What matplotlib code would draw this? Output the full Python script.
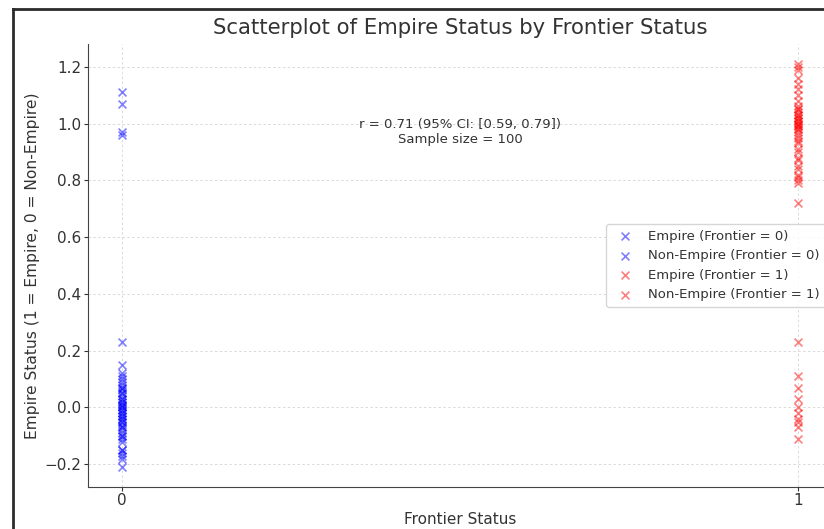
import numpy as np
import matplotlib
matplotlib.use("Agg")
import matplotlib.pyplot as plt
from matplotlib.lines import Line2D

# Valores (estado de imperio con jitter vertical)
empire_f0 = [1.11, 1.07, 0.97, 0.96]
nonempire_f0 = [0.23, 0.15, 0.12, 0.11, 0.10, 0.09, 0.08, 0.07, 0.07, 0.06,
                0.05, 0.05, 0.04, 0.03, 0.03, 0.02, 0.02, 0.01, 0.01, 0.00,
                0.00, -0.01, -0.01, -0.02, -0.02, -0.03, -0.03, -0.04, -0.04, -0.05,
                -0.05, -0.06, -0.07, -0.07, -0.08, -0.09, -0.10, -0.10, -0.11, -0.12,
                -0.15, -0.16, -0.17, -0.18, -0.15, -0.21]
empire_f1 = [1.21, 1.20, 1.19, 1.16, 1.14, 1.12, 1.10, 1.08, 1.06, 1.05,
             1.05, 1.04, 1.03, 1.03, 1.02, 1.02, 1.01, 1.01, 1.00, 1.00,
             0.99, 0.99, 0.98, 0.98, 0.97, 0.96, 0.95, 0.94, 0.93, 0.91,
             0.90, 0.88, 0.87, 0.85, 0.84, 0.82, 0.81, 0.80, 0.79, 0.72]
nonempire_f1 = [0.23, 0.11, 0.07, 0.03, 0.00, -0.02, -0.04, -0.05, -0.07, -0.11]

r_txt = "r = 0.71 (95% CI: [0.59, 0.79])"
n_txt = "Sample size = 100"

txt_color = "#333333"
plt.rcParams['font.family'] = ['DejaVu Sans']

fig = plt.figure(figsize=(8.24, 5.29), dpi=100)
ax = fig.add_axes([0.1068, 0.0794, 0.9029, 0.8374])

ax.scatter(np.zeros(len(empire_f0)), empire_f0, marker='x', color='blue', alpha=0.5,
           s=32, linewidths=1.2, label='Empire (Frontier = 0)')
ax.scatter(np.zeros(len(nonempire_f0)), nonempire_f0, marker='x', color='blue', alpha=0.5,
           s=32, linewidths=1.2, label='Non-Empire (Frontier = 0)')
ax.scatter(np.ones(len(empire_f1)), empire_f1, marker='x', color='red', alpha=0.5,
           s=32, linewidths=1.2, label='Empire (Frontier = 1)')
ax.scatter(np.ones(len(nonempire_f1)), nonempire_f1, marker='x', color='red', alpha=0.5,
           s=32, linewidths=1.2, label='Non-Empire (Frontier = 1)')

ax.set_xlim(-0.05, 1.05)
ax.set_ylim(-0.28, 1.28)
ax.set_xticks([0, 1])
ax.set_yticks([-0.2, 0.0, 0.2, 0.4, 0.6, 0.8, 1.0, 1.2])
ax.grid(True, linestyle=(0, (2.5, 2.5)), color='#d9d9d9', linewidth=0.7)
ax.set_axisbelow(True)

for s in ['top', 'right']:
    ax.spines[s].set_visible(False)
for s in ['left', 'bottom']:
    ax.spines[s].set_color('#444444')
ax.tick_params(colors=txt_color, labelsize=11, length=3, pad=2)
ax.tick_params(axis='x', pad=1)

ax.set_title("Scatterplot of Empire Status by Frontier Status", fontsize=15.3,
             color=txt_color, pad=7)
ax.set_xlabel("Frontier Status", fontsize=11, color=txt_color, labelpad=3)
ax.set_ylabel("Empire Status (1 = Empire, 0 = Non-Empire)", fontsize=11.2,
              color=txt_color, labelpad=3)

ax.text(0.5, 0.97, r_txt + "\n" + n_txt, ha='center', va='center', fontsize=9.5,
        color=txt_color)

leg = ax.legend(loc='center right', fontsize=9.5, frameon=True)
for t in leg.get_texts():
    t.set_color(txt_color)

# marco de la captura
W, H = 824, 529
fig.add_artist(Line2D([13 / W, 13 / W], [0, 1 - 9 / H], color='#2b2b2b', linewidth=2))
fig.add_artist(Line2D([13 / W, 1], [1 - 9 / H, 1 - 9 / H], color='#2b2b2b', linewidth=2))

fig.savefig("out.png", dpi=100)
